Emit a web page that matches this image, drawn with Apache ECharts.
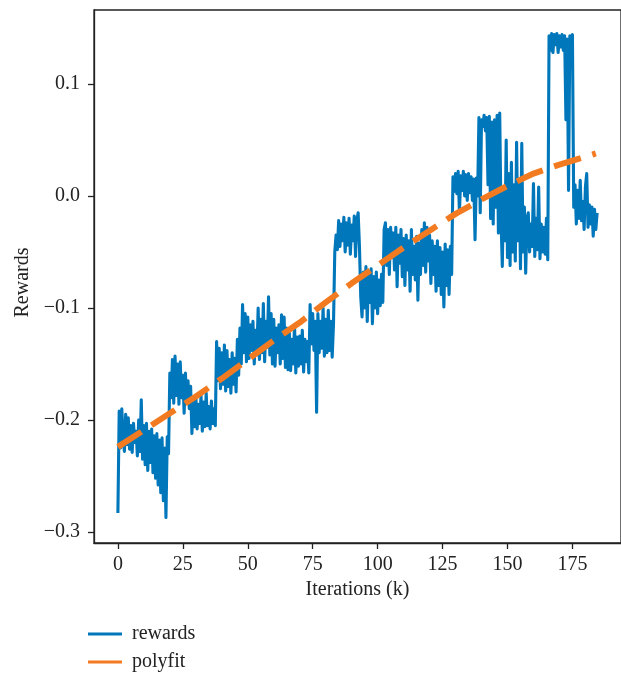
<!DOCTYPE html>
<html>
<head>
<meta charset="utf-8">
<script src="https://cdn.jsdelivr.net/npm/echarts@6/dist/echarts.min.js"></script>
<style>
html,body{margin:0;padding:0;background:#fff;}
#chart{width:621px;height:675px;}
</style>
</head>
<body>
<div id="chart"></div>
<script>
// rewards, one sample every 0.5k iterations, starting at 0
const rewards = [
// 0 - 19.5
-0.283,-0.192,-0.225,-0.190,-0.215,-0.228,-0.195,-0.222,-0.198,-0.226,
-0.205,-0.229,-0.203,-0.220,-0.210,-0.232,-0.200,-0.228,-0.182,-0.235,
-0.205,-0.240,-0.203,-0.245,-0.210,-0.238,-0.208,-0.247,-0.214,-0.252,
-0.212,-0.258,-0.218,-0.265,-0.216,-0.272,-0.225,-0.287,-0.215,-0.230,
// 20 - 37.5
-0.158,-0.180,-0.146,-0.185,-0.143,-0.178,-0.150,-0.186,-0.148,-0.180,
-0.160,-0.194,-0.158,-0.185,-0.165,-0.190,-0.170,-0.212,-0.182,-0.206,
-0.178,-0.208,-0.186,-0.203,-0.178,-0.210,-0.184,-0.206,-0.176,-0.205,
-0.188,-0.208,-0.183,-0.203,-0.190,-0.205,
// 38 - 49.5
-0.130,-0.165,-0.136,-0.172,-0.140,-0.168,-0.133,-0.174,-0.138,-0.170,
-0.146,-0.176,-0.140,-0.168,-0.145,-0.175,-0.128,-0.160,-0.118,-0.150,
-0.097,-0.140,-0.105,-0.148,
// 50 - 65.5
-0.108,-0.145,-0.115,-0.138,-0.112,-0.150,-0.120,-0.142,-0.100,-0.146,
-0.110,-0.140,-0.096,-0.148,-0.112,-0.135,-0.090,-0.142,-0.105,-0.150,
-0.110,-0.152,-0.118,-0.140,-0.115,-0.150,-0.106,-0.145,-0.108,-0.153,
-0.118,-0.155,
// 66 - 73.5
-0.122,-0.156,-0.128,-0.150,-0.115,-0.158,-0.126,-0.152,-0.125,-0.150,
-0.120,-0.157,-0.128,-0.148,-0.130,-0.158,
// 74 - 83.5
-0.097,-0.132,-0.105,-0.138,-0.112,-0.193,-0.105,-0.140,-0.112,-0.136,
-0.100,-0.143,-0.110,-0.140,-0.102,-0.138,-0.112,-0.144,-0.115,-0.050,
// 84 - 93.5
-0.035,-0.048,-0.022,-0.045,-0.025,-0.040,-0.019,-0.050,-0.024,-0.044,
-0.020,-0.052,-0.026,-0.040,-0.018,-0.054,-0.022,-0.015,-0.045,-0.090,
// 94 - 102.5
-0.108,-0.068,-0.100,-0.063,-0.112,-0.070,-0.095,-0.065,-0.114,-0.072,
-0.100,-0.068,-0.105,-0.075,-0.098,-0.070,-0.095,-0.030,
// 103 - 117.5
-0.024,-0.062,-0.030,-0.070,-0.028,-0.055,-0.033,-0.066,-0.028,-0.081,
-0.035,-0.060,-0.030,-0.072,-0.038,-0.080,-0.035,-0.066,-0.040,-0.085,
-0.030,-0.070,-0.045,-0.075,-0.036,-0.093,-0.042,-0.070,-0.030,-0.062,
// 118 - 128.5
-0.024,-0.068,-0.028,-0.058,-0.035,-0.078,-0.040,-0.070,-0.045,-0.085,
-0.040,-0.080,-0.046,-0.088,-0.050,-0.099,-0.043,-0.080,-0.048,-0.088,
-0.045,-0.070,
// 129 - 138.5
0.017,0.004,0.020,0.002,0.022,-0.015,0.018,0.005,0.022,0.000,
0.019,-0.004,0.020,0.003,0.017,-0.004,0.015,-0.039,0.016,0.000,
// 139 - 147.5
0.070,-0.015,0.068,0.062,0.072,0.058,0.070,0.010,0.071,-0.020,
0.066,-0.025,0.068,-0.010,0.072,-0.033,0.074,-0.020,
// 148 - 157.5
-0.063,0.005,-0.040,0.050,-0.055,0.020,-0.062,0.030,-0.050,0.010,
-0.058,0.048,-0.040,0.015,-0.065,0.047,-0.050,-0.010,-0.069,-0.020,
// 158 - 165.5
-0.015,-0.050,-0.025,-0.045,0.011,-0.054,-0.020,-0.048,0.008,-0.056,
-0.025,-0.050,-0.028,-0.052,-0.020,-0.057,
// 166 - 175.5
0.143,0.130,0.145,0.128,0.144,0.135,0.145,0.128,0.143,0.133,
0.144,0.130,0.143,0.068,0.140,0.005,0.143,0.140,0.144,-0.010,
// 176 - 184.5
0.010,-0.025,0.005,-0.020,0.014,-0.022,-0.005,-0.030,0.008,0.020,
-0.028,-0.008,-0.025,-0.010,-0.036,-0.012,-0.030,-0.015
];
const rewardStep = 0.5; // k iterations per sample

// polyfit curve
const polyX = [0,10,20,30,40,50,60,70,80,90,100,110,120,130,140,150,160,170,180,184];
const polyY = [-0.224,-0.209,-0.194,-0.179,-0.163,-0.146,-0.129,-0.113,-0.095,-0.078,
               -0.062,-0.046,-0.031,-0.016,-0.003,0.009,0.020,0.028,0.035,0.038];

const xTicks = [0,25,50,75,100,125,150,175];
const yTicks = [-0.3,-0.2,-0.1,0.0,0.1];

const FONT = 'Liberation Serif';
const TXT = '#222222';
const BLUE = '#0077BB';
const ORANGE = '#F27B22';

const rewardData = rewards.map((v,i)=>[i*rewardStep, v]);
const polyData = polyX.map((x,i)=>[x, polyY[i]]);

const chart = echarts.init(document.getElementById('chart'), null, {renderer:'canvas'});
chart.setOption({
  animation:false,
  backgroundColor:'#ffffff',
  grid:{left:94, top:10, right:-10, bottom:132, show:true, borderColor:'#222', borderWidth:1.3, backgroundColor:'transparent'},
  xAxis:{
    type:'value', min:-9.2, max:193.7,
    name:'Iterations (k)', nameLocation:'middle', nameGap:35,
    nameTextStyle:{fontFamily:FONT, fontSize:20, color:TXT},
    axisLine:{show:true, onZero:false, lineStyle:{color:'#222', width:1.3}},
    axisTick:{show:true, length:6, customValues:xTicks, lineStyle:{color:'#222', width:1.3}},
    axisLabel:{customValues:xTicks, margin:12, fontFamily:FONT, fontSize:20, color:TXT},
    splitLine:{show:false}
  },
  yAxis:{
    type:'value', min:-0.3098, max:0.166,
    name:'Rewards', nameLocation:'middle', nameGap:55, nameRotate:90,
    nameTextStyle:{fontFamily:FONT, fontSize:20, color:TXT, padding:[0,12,0,0]},
    axisLine:{show:true, onZero:false, lineStyle:{color:'#222', width:1.3}},
    axisTick:{show:true, length:6, customValues:yTicks, lineStyle:{color:'#222', width:1.3}},
    axisLabel:{customValues:yTicks, margin:14, fontFamily:FONT, fontSize:20, color:TXT,
      formatter:function(v){ const a=Math.abs(v).toFixed(1); return (v< -1e-9 ? '\u2212' : '') + a; }},
    splitLine:{show:false}
  },
  legend:[
    {show:true, left:83, top:619, icon:'rect', itemWidth:34, itemHeight:3,
     textStyle:{fontFamily:FONT, fontSize:20, color:TXT, padding:[0,0,0,5]},
     data:['rewards']},
    {show:true, left:83, top:647, icon:'rect', itemWidth:34, itemHeight:3,
     textStyle:{fontFamily:FONT, fontSize:20, color:TXT, padding:[0,0,0,5]},
     data:['polyfit']}
  ],
  series:[
    {name:'rewards', type:'line', data:rewardData, showSymbol:false, symbol:'none',
     color:BLUE, lineStyle:{color:BLUE, width:3.1, join:'round'}, z:2},
    {name:'polyfit', type:'line', data:polyData, showSymbol:false, symbol:'none',
     color:ORANGE, lineStyle:{color:ORANGE, width:6, type:[28,12], cap:'butt'}, z:3}
  ]
});
</script>
</body>
</html>
